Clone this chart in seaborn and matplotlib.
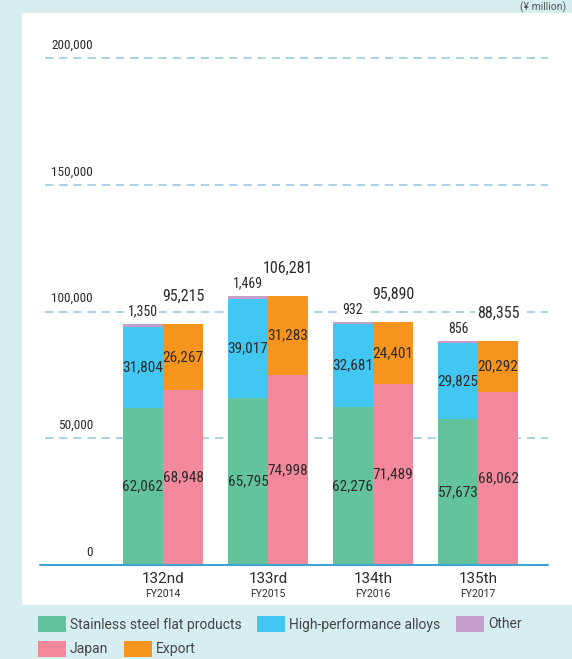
import matplotlib
matplotlib.use("Agg")
import matplotlib.pyplot as plt
import matplotlib.patches as mpatches
import seaborn as sns
import pandas as pd
import numpy as np

# ---- data ----
categories = ["132nd", "133rd", "134th", "135th"]
fiscal_years = ["FY2014", "FY2015", "FY2016", "FY2017"]
stainless = [62062, 65795, 62276, 57673]
high_perf = [31804, 39017, 32681, 29825]
other = [1350, 1469, 932, 856]
japan = [68948, 74998, 71489, 68062]
export = [26267, 31283, 24401, 20292]
totals = [95215, 106281, 95890, 88355]
y_ticks = [0, 50000, 100000, 150000, 200000]

C_GREEN = "#62c39d"
C_BLUE = "#41c7f1"
C_PURPLE = "#c59fc9"
C_PINK = "#f2889c"
C_ORANGE = "#f7941e"
BG = "#d6eef0"
TXT = "#2b2b2b"
GRID = "#9ccbe0"
AXIS = "#3aa3cf"

sns.set_theme(style="white")
plt.rcParams["font.family"] = ["Roboto", "DejaVu Sans"]
NARROW = ["Roboto Condensed", "Roboto", "DejaVu Sans"]

W, H = 572, 659
fig = plt.figure(figsize=(W / 100, H / 100), dpi=100, facecolor=BG)

# white panel
fig.patches.append(mpatches.Rectangle((22 / W, 1 - 605 / H), (W - 22) / W, (605 - 13) / H,
                                      transform=fig.transFigure, facecolor="white",
                                      edgecolor="none", zorder=-5))

ax_l, ax_r = 40, 548
ax_t, ax_b = 58, 565
ax = fig.add_axes([ax_l / W, 1 - ax_b / H, (ax_r - ax_l) / W, (ax_b - ax_t) / H])
ax.set_facecolor("none")
ax.set_zorder(2)

s = np.array(stainless); hp = np.array(high_perf); ot = np.array(other)
jp = np.array(japan); ex = np.array(export)

width = 0.762
def layer(left_vals, right_vals, cl, cr):
    df = pd.DataFrame({
        "cat": categories * 2,
        "side": ["L"] * 4 + ["R"] * 4,
        "value": list(left_vals) + list(right_vals),
    })
    sns.barplot(data=df, x="cat", y="value", hue="side", hue_order=["L", "R"],
                order=categories, palette={"L": cl, "R": cr}, width=width,
                dodge=True, legend=False, errorbar=None, saturation=1,
                linewidth=0, ax=ax, zorder=2)

layer(s + hp + ot, jp + ex, C_PURPLE, C_ORANGE)
layer(s + hp, jp, C_BLUE, C_PINK)
layer(s, jp, C_GREEN, C_PINK)

unit = 105.0
xmin = -(163 - ax_l) / unit
xmax = xmin + (ax_r - ax_l) / unit
ax.set_xlim(xmin, xmax)
ax.set_ylim(0, 200000)
for sp in ax.spines.values():
    sp.set_visible(False)
ax.set_xticks([]); ax.set_yticks([])
ax.set_xlabel(""); ax.set_ylabel("")

# gridlines and labels
for v in y_ticks:
    if v > 0:
        ax.plot([(45 - ax_l) / (ax_r - ax_l), 1], [v, v], transform=ax.get_yaxis_transform(),
                color=GRID, lw=1.2, ls=(0, (5, 3.5)), zorder=1, clip_on=False)
    ax.annotate(f"{v:,}", xy=((93 - ax_l) / (ax_r - ax_l), v), xycoords=ax.get_yaxis_transform(),
                xytext=(0, 4.5), textcoords="offset points", ha="right", va="bottom",
                fontsize=9.5, color=TXT, family=NARROW)
ax.plot([0, 1], [0, 0], transform=ax.get_yaxis_transform(), color=AXIS, lw=1.5,
        zorder=3, clip_on=False)

off = width / 4
kw = dict(fontsize=11, color=TXT, family=NARROW, zorder=4)
white_bg = dict(boxstyle="square,pad=0.1", facecolor="white", edgecolor="none")
for i in range(4):
    xl, xr = i - off, i + off
    ax.text(xl, s[i] / 2, f"{s[i]:,}", ha="center", va="center", **kw)
    ax.text(xl, s[i] + hp[i] / 2, f"{hp[i]:,}", ha="center", va="center", **kw)
    ax.text(xr, jp[i] / 2, f"{jp[i]:,}", ha="center", va="center", **kw)
    ax.text(xr, jp[i] + ex[i] / 2, f"{ex[i]:,}", ha="center", va="center", **kw)
    ax.annotate(f"{ot[i]:,}", xy=(xl, s[i] + hp[i] + ot[i]), xytext=(0, 3.5), textcoords="offset points",
                ha="center", va="bottom", fontsize=10, color=TXT, family=NARROW, zorder=4,
                bbox=white_bg)
    ax.annotate(f"{totals[i]:,}", xy=(xr, totals[i]), xytext=(0, 14.5), textcoords="offset points",
                ha="center", va="bottom", fontsize=11.5, color=TXT, family=NARROW, zorder=4,
                bbox=white_bg)
    ax.annotate(categories[i], xy=(i, 0), xytext=(0, -5), textcoords="offset points",
                ha="center", va="top", fontsize=11, color=TXT, annotation_clip=False)
    ax.annotate(fiscal_years[i], xy=(i, 0), xytext=(0, -17.5), textcoords="offset points",
                ha="center", va="top", fontsize=7.5, color=TXT, annotation_clip=False)

# unit label
fig.text(566 / W, 1 - 1 / H, "(¥ million)", ha="right", va="top", fontsize=7.5, color="#555555")

# legend
legend_items = [
    ("Stainless steel flat products", C_GREEN, 38, 616),
    ("High-performance alloys", C_BLUE, 257, 616),
    ("Other", C_PURPLE, 456, 616),
    ("Japan", C_PINK, 38, 641),
    ("Export", C_ORANGE, 124, 641),
]
for label, col, px, py in legend_items:
    fig.patches.append(mpatches.Rectangle((px / W, 1 - (py + 16) / H), 28 / W, 16 / H,
                                          transform=fig.transFigure, facecolor=col,
                                          edgecolor="none"))
    fig.text((px + 32) / W, 1 - (py + 8.5) / H, label, ha="left", va="center",
             fontsize=10, color="#444444")

fig.savefig("out.png", dpi=100, facecolor=BG)
